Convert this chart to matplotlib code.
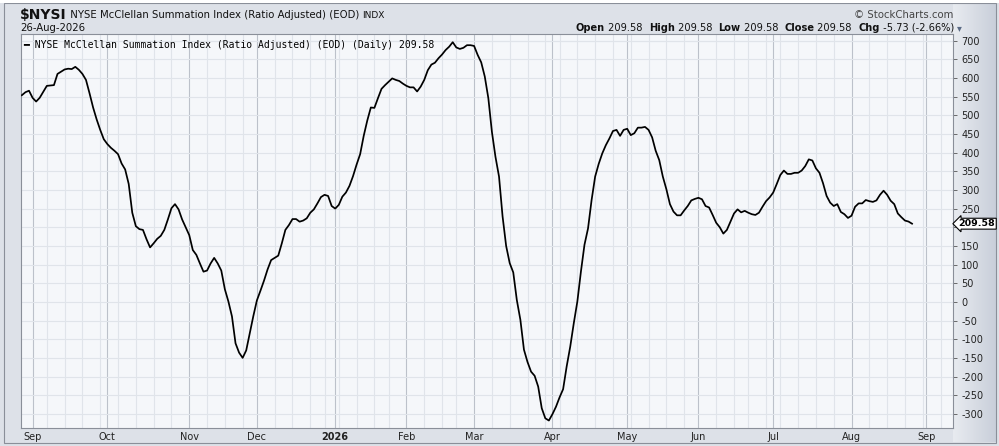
import numpy as np
import pandas as pd
import matplotlib
matplotlib.use("Agg")
from matplotlib import pyplot as plt
from matplotlib.patches import Rectangle

# trading days shown (NYSE calendar), last one is 26-Aug-2026
holidays = ["2025-09-01", "2025-11-27", "2025-12-25", "2026-01-01", "2026-01-19",
            "2026-02-16", "2026-04-03", "2026-05-25", "2026-06-19", "2026-07-03",
            "2026-09-07"]
start_date = "2025-08-27"
last_date = "2026-08-26"

# daily values of $NYSI
nysi = [
    554, 562, 566, 547, 537, 547, 563, 579, 580, 581,
    611, 617, 623, 625, 624, 630, 622, 611, 595, 559,
    521, 489, 461, 436, 423, 413, 405, 396, 371, 355,
    316, 239, 203, 195, 193, 168, 146, 157, 169, 177,
    193, 221, 251, 262, 248, 221, 200, 179, 139, 126,
    103, 81, 84, 103, 118, 103, 84, 34, 1, -39,
    -111, -136, -150, -130, -84, -38, 4, 30, 57, 87,
    112, 118, 124, 157, 193, 206, 222, 222, 215, 218,
    224, 239, 248, 264, 281, 287, 284, 257, 250, 260,
    282, 293, 311, 337, 368, 396, 445, 486, 521, 520,
    546, 571, 581, 590, 599, 595, 592, 585, 579, 575,
    575, 564, 577, 595, 621, 636, 641, 653, 663, 675,
    684, 696, 682, 678, 681, 688, 688, 686, 662, 642,
    604, 546, 456, 389, 336, 229, 150, 104, 79, 5,
    -48, -128, -161, -187, -198, -227, -285, -312, -318, -301,
    -281, -256, -234, -173, -120, -57, 1, 81, 153, 197,
    273, 336, 370, 398, 420, 438, 458, 461, 445, 461,
    464, 447, 452, 467, 467, 469, 461, 441, 405, 380,
    336, 302, 262, 242, 232, 232, 245, 257, 272, 276,
    279, 275, 257, 253, 233, 212, 200, 183, 193, 215,
    237, 248, 240, 244, 239, 235, 233, 239, 255, 270,
    280, 293, 316, 340, 352, 343, 343, 346, 346, 352,
    364, 382, 379, 358, 346, 318, 284, 266, 257, 262,
    241, 235, 225, 231, 255, 264, 264, 273, 270, 268,
    272, 287, 298, 287, 271, 262, 237, 227, 218, 215.31,
    209.58,
]

y_ticks = list(range(-300, 701, 50))

W, H = 999, 446
bg = "#dde1e8"
plot_bg = "#f5f7fa"
minor_grid = "#e0e4ea"
major_grid = "#bcc1ca"

# calendar: trading days until some time after the last value (empty space on the right)
days = pd.bdate_range(start_date, "2026-09-15")
days = days[~days.isin(pd.to_datetime(holidays))]
n = len(nysi)
assert days[n - 1] == pd.Timestamp(last_date)
xs = np.arange(n)


def fx(px):
    return px / W


def fy(py):
    return 1 - py / H


fig = plt.figure(figsize=(W / 100, H / 100), dpi=100, facecolor=bg)

# outer frame
fig.patches.append(Rectangle((fx(4), fy(443)), fx(992), 440 / H, transform=fig.transFigure,
                             fill=False, ec="#8a8f99", lw=0.8))
fig.patches.append(Rectangle((0, fy(3)), 1, 3 / H, transform=fig.transFigure,
                             fc="white", ec="none"))

# light gradient behind the price scale
gax = fig.add_axes([fx(953), fy(442), fx(42), 438 / H], zorder=0)
grad = np.linspace(0, 1, 50)[None, :]
gax.imshow(grad, aspect="auto", cmap=matplotlib.colors.LinearSegmentedColormap.from_list(
    "g", ["#e8ebf0", "#c9cfda"]), extent=[0, 1, 0, 1])
gax.axis("off")

ax = fig.add_axes([fx(21), fy(428), fx(932), (428 - 34) / H], zorder=2)
ax.set_facecolor(plot_bg)

# week and month grid lines, month ticks on first trading day of a month
mpos, mlab = [], []
for k in range(1, len(days)):
    d, p = days[k], days[k - 1]
    if d.month != p.month:
        ax.axvline(k, color=major_grid, lw=0.8, zorder=1)
        mpos.append(k)
        mlab.append("2026" if d.month == 1 else d.strftime("%b"))
    elif d.isocalendar()[1] != p.isocalendar()[1]:
        ax.axvline(k, color=minor_grid, lw=0.8, zorder=1)
for v in y_ticks + [700]:
    ax.axhline(v, color=minor_grid, lw=0.8, zorder=1)

ax.plot(xs, nysi, color="black", lw=1.25, zorder=3)

ax.set_xlim(-0.25, 261.5)
ax.set_ylim(-338, 718)

ax.yaxis.tick_right()
ax.set_yticks(y_ticks)
# 200 sits under the last-value box
ax.set_yticklabels(["" if v == 200 else str(v) for v in y_ticks], fontsize=7, color="#222222")
ax.tick_params(axis="y", length=3, width=0.6, pad=3, color="#555555")

ax.set_xticks(mpos)
ax.set_xticklabels(mlab, fontsize=7, color="#222222")
for t in ax.get_xticklabels():
    if t.get_text() == "2026":
        t.set_fontweight("bold")
ax.tick_params(axis="x", length=0, pad=3)

for s in ax.spines.values():
    s.set_color("#8a8f99")
    s.set_linewidth(0.8)
ax.spines["right"].set_linestyle((0, (1, 1)))
ax.spines["bottom"].set_linestyle((0, (1, 1)))

# legend line
ax.text(0.002, 0.985, "\u2501 NYSE McClellan Summation Index (Ratio Adjusted) (EOD) (Daily) 209.58",
        transform=ax.transAxes, family="DejaVu Sans Mono", fontsize=7, va="top", ha="left",
        color="black", zorder=4)

# last value marker
ax.annotate("209.58", xy=(1, nysi[-1]), xycoords=("axes fraction", "data"),
            xytext=(4, 0), textcoords="offset points", va="center", ha="left",
            fontsize=6.8, fontweight="bold", color="black", annotation_clip=False,
            bbox=dict(boxstyle="larrow,pad=0.1", fc="white", ec="black", lw=0.8), zorder=5)

renderer = fig.canvas.get_renderer()


def write_row(x0, y0, parts):
    # place bits of text one after another
    xpos = x0
    for txt, wt, sz in parts:
        t = fig.text(fx(xpos), fy(y0), txt, fontsize=sz, fontweight=wt, va="center",
                     ha="left", color="#111111")
        xpos += t.get_window_extent(renderer).width
    return xpos


# header
write_row(20, 15, [("$NYSI", "bold", 10), (" NYSE McClellan Summation Index (Ratio Adjusted) (EOD) ", "normal", 7.3),
                   ("INDX", "normal", 6.5)])
fig.text(fx(20), fy(28), "26-Aug-2026", fontsize=7.3, va="center", ha="left", color="#111111")
fig.text(fx(953), fy(15), "\u00a9 StockCharts.com", fontsize=7.3, va="center", ha="right", color="#444444")

hs = 7.1
parts = [("Open", "bold", hs), (" 209.58  ", "normal", hs), ("High", "bold", hs),
         (" 209.58  ", "normal", hs), ("Low", "bold", hs), (" 209.58  ", "normal", hs),
         ("Close", "bold", hs), (" 209.58  ", "normal", hs), ("Chg", "bold", hs),
         (" -5.73 (-2.66%) ", "normal", hs)]
xend = write_row(576, 28, parts)
fig.text(fx(xend), fy(28), "\u25be", fontsize=7, va="center", ha="left", color="#5a6a85")

fig.savefig("out.png", dpi=100, facecolor=bg)
